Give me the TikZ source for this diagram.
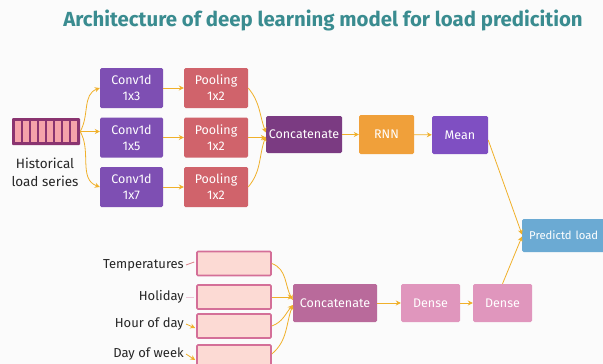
\documentclass[tikz,border=0pt]{standalone}
\usepackage{fontspec}
\setmainfont{Fira Sans}
\usetikzlibrary{arrows.meta,calc}
\definecolor{bgc}{HTML}{FBFBFB}
\definecolor{titlec}{HTML}{3A8C90}
\definecolor{convc}{HTML}{7E4FB3}
\definecolor{poolc}{HTML}{D0636B}
\definecolor{catc}{HTML}{7B3B82}
\definecolor{rnnc}{HTML}{F0A03A}
\definecolor{meanc}{HTML}{7F4FC2}
\definecolor{predc}{HTML}{6BAAD3}
\definecolor{histb}{HTML}{8A3470}
\definecolor{histc}{HTML}{F5A3AA}
\definecolor{arrc}{HTML}{F0B02A}
\definecolor{inb}{HTML}{D46F98}
\definecolor{inf}{HTML}{FCDAD4}
\definecolor{cattwo}{HTML}{B96A9B}
\definecolor{densec}{HTML}{E096BD}
\tikzset{
  blk/.style={rectangle, rounded corners=1.5pt, text=white, align=center,
    inner sep=0pt, font=\fontsize{12.5}{16}\selectfont},
  inbox/.style={rectangle, rounded corners=1pt, draw=inb, fill=inf, line width=1.6pt,
    minimum width=74pt, minimum height=24pt, inner sep=0pt},
  lab/.style={font=\fontsize{13}{15}\selectfont, text=black!85, inner sep=0pt},
  arr/.style={draw=arrc, line width=0.8pt, -{Stealth[length=5pt,width=5pt]}},
  tickline/.style={draw=arrc, line width=0.8pt}
}
\begin{document}
\begin{tikzpicture}[x=1pt,y=-1pt]
\fill[bgc] (0,0) rectangle (603,364);
\useasboundingbox (0,0) rectangle (603,364);
% title
\node[font=\fontsize{20.4}{24}\selectfont\bfseries, text=titlec] (title) at (323,20) {Architecture of deep learning model for load predicition};
% historical series
\node[rectangle, fill=histb, minimum width=68pt, minimum height=27pt, inner sep=0pt, rounded corners=1pt] (hist) at (46,131.5) {};
\foreach \i in {0,...,7}{
  \fill[histc] (15+\i*8,121) rectangle (21+\i*8,142);
}
\node[lab, align=center, font=\fontsize{13.5}{18}\selectfont] (histlab) at (45,172) {Historical\\load series};
% conv
\node[blk, fill=convc, minimum width=63pt, minimum height=40pt] (c1) at (131.5,88) {Conv1d\\1x3};
\node[blk, fill=convc, minimum width=63pt, minimum height=40pt] (c2) at (131.5,137.5) {Conv1d\\1x5};
\node[blk, fill=convc, minimum width=63pt, minimum height=40pt] (c3) at (131.5,187) {Conv1d\\1x7};
% pooling
\node[blk, fill=poolc, minimum width=64pt, minimum height=40pt] (p1) at (216,88) {Pooling\\1x2};
\node[blk, fill=poolc, minimum width=64pt, minimum height=40pt] (p2) at (216,137.5) {Pooling\\1x2};
\node[blk, fill=poolc, minimum width=64pt, minimum height=40pt] (p3) at (216,187) {Pooling\\1x2};
% concat, rnn, mean
\node[blk, fill=catc, minimum width=76pt, minimum height=37pt] (cat1) at (304,134.5) {Concatenate};
\node[blk, fill=rnnc, minimum width=55pt, minimum height=39pt] (rnn) at (386.5,134.5) {RNN};
\node[blk, fill=meanc, minimum width=56pt, minimum height=38pt] (mean) at (460,135) {Mean};
% prediction
\node[blk, fill=predc, anchor=west, minimum height=33pt, text width=84pt, align=left, inner xsep=7pt, font=\fontsize{11.3}{14}\selectfont] (pred) at (522,235.5) {Predictd load};
% lower inputs
\node[inbox] (t) at (234,263.5) {};
\node[inbox] (h) at (234,297) {};
\node[inbox] (hd) at (234,326) {};
\node[inbox] (dw) at (234,357) {};
\node[lab, anchor=east] (tl) at (184,265) {Temperatures};
\node[lab, anchor=east] (hl) at (184,297) {Holiday};
\node[lab, anchor=east] (hdl) at (184,324) {Hour of day};
\node[lab, anchor=east] (dwl) at (184,354) {Day of week};
\node[blk, fill=cattwo, minimum width=84pt, minimum height=38pt] (cat2) at (335,303) {Concatenate};
\node[blk, fill=densec, minimum width=59pt, minimum height=38pt] (d1) at (430.5,303) {Dense};
\node[blk, fill=densec, minimum width=59pt, minimum height=38pt] (d2) at (502.5,303) {Dense};
% connectors top
\draw[arr] (hist.east) to[out=60,in=200] (c1.west);
\draw[arr] (hist.east) -- (c2.west |- hist.east);
\draw[arr] (hist.east) to[out=-60,in=160] (c3.west);
\draw[arr] (c1) -- (p1);
\draw[arr] (c2) -- (p2);
\draw[arr] (c3) -- (p3);
\draw[arr] (p1.east) to[out=-50,in=110] ([yshift=2pt]cat1.west);
\draw[arr] (p2.east) -- (cat1.west |- p2.east);
\draw[arr] (p3.east) to[out=50,in=-110] ([yshift=-2pt]cat1.west);
\draw[arr] (cat1) -- (rnn);
\draw[arr] (rnn) -- (mean);
\draw[arr] ([yshift=-5pt]mean.east) -- ([yshift=1pt]pred.west);
% connectors bottom
\draw[tickline, draw=poolc!80] ($(tl.east)+(2pt,0)$) -- ($(t.west)+(-2pt,1.5pt)$);
\draw[tickline, draw=inb!40] ($(hl.east)+(2pt,0)$) -- ($(h.west)+(-2pt,0)$);
\draw[arr] ($(hdl.east)+(2pt,0)$) -- ($(hd.west)+(-1pt,-2pt)$);
\draw[arr] ($(dwl.east)+(2pt,0)$) -- ($(dw.west)+(-1pt,-3pt)$);
\draw[arr] (t.east) to[out=-20,in=120] ([yshift=3pt]cat2.west);
\draw[arr] (h.east) -- (cat2.west |- h.east);
\draw[arr] (hd.east) to[out=20,in=-130] ([yshift=-2pt]cat2.west);
\draw[arr] ([yshift=3pt]dw.east) to[out=40,in=-110] ([yshift=-2pt]cat2.west);
\draw[arr] (cat2) -- (d1);
\draw[arr] (d1) -- (d2);
\draw[arr] (d2.north) -- ([yshift=-1pt]pred.west);
\end{tikzpicture}
\end{document}
